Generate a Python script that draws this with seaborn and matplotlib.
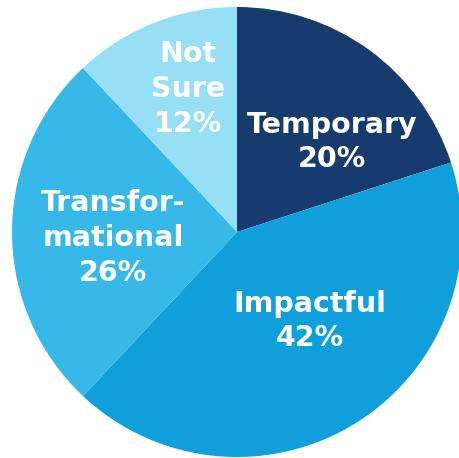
import matplotlib
matplotlib.use("Agg")
import matplotlib.pyplot as plt
import seaborn as sns

sns.set_theme(style="white")
plt.rcParams["font.family"] = ["DejaVu Sans"]

# Share of respondents by category
categories = ["Temporary", "Impactful", "Transformational", "Not Sure"]
display_names = ["Temporary", "Impactful", "Transfor-\nmational", "Not\nSure"]
shares = [20, 42, 26, 12]

colors = sns.color_palette(["#173b6d", "#0fa0db", "#36b9e8", "#96dff4"])

W, H = 459, 458
fig = plt.figure(figsize=(W / 100, H / 100), dpi=100)
ax = fig.add_axes([0, 0, 1, 1])

cx, cy, R = 237, H - 232, 225
ax.pie(shares, colors=colors, startangle=90, counterclock=False,
       center=(cx, cy), radius=R, frame=True,
       wedgeprops=dict(linewidth=0))
ax.set_xlim(0, W)
ax.set_ylim(0, H)
ax.set_aspect("equal")
ax.axis("off")

# label anchor points (pixels from top-left) for each category
label_xy = [(332, 142), (310, 321), (113, 238), (188, 89)]
for name, share, (lx, ly) in zip(display_names, shares, label_xy):
    ax.text(lx, H - ly, f"{name}\n{share}%", ha="center", va="center",
            color="white", fontsize=20.5, fontweight="bold", linespacing=1.3)

fig.savefig("out.png", dpi=100)
